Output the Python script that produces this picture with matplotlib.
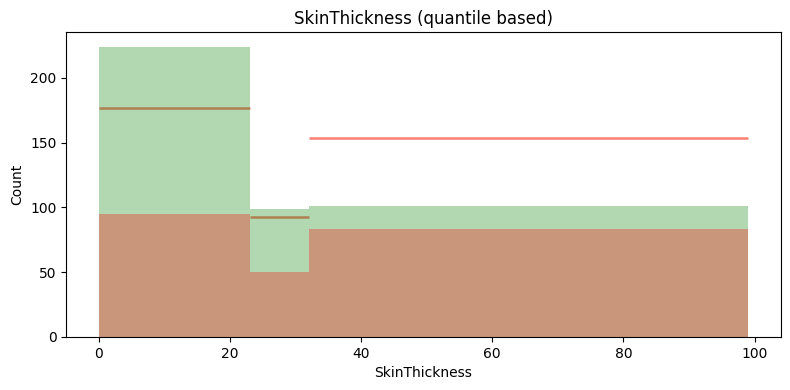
"""
SkinThickness histogram with quantile bins, two overlaid groups.
"""

import matplotlib.pyplot as plt
import numpy as np

# quantile bin edges
bin_edges = [0, 23, 32, 99]

# counts per bin
green_counts = [224, 99, 101]
red_counts = [95, 50, 83]
# red outline levels
red_lines = [177, 93, 154]

left = np.array(bin_edges[:-1])
widths = np.diff(bin_edges)

fig, ax = plt.subplots(figsize=(7.9, 3.9), dpi=100)

# line goes under the bars so the green fill tints it
ax.hlines(red_lines, left, left + widths, color='salmon', linewidth=1.8, zorder=0.5)
ax.bar(left, green_counts, width=widths, align='edge', color='green', alpha=0.3, linewidth=0, zorder=1)
ax.bar(left, red_counts, width=widths, align='edge', color='red', alpha=0.3, linewidth=0, zorder=1.1)

ax.set_title('SkinThickness (quantile based)')
ax.set_xlabel('SkinThickness')
ax.set_ylabel('Count')

plt.subplots_adjust(left=0.084, right=0.988, top=0.917, bottom=0.136)
plt.savefig('out.png')
